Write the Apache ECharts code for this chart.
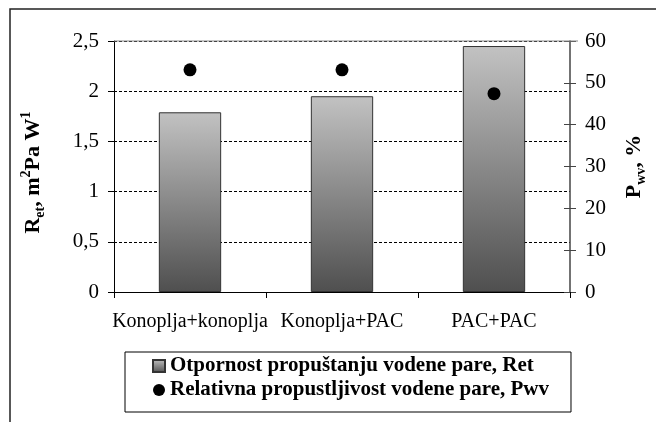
<!DOCTYPE html>
<html><head><meta charset="utf-8">
<script src="https://cdn.jsdelivr.net/npm/echarts@6/dist/echarts.min.js"></script>
<style>html,body{margin:0;padding:0;background:#fff}#c{width:656px;height:422px}</style>
</head><body><div id="c"></div>
<script>
var categories = ['Konoplja+konoplja', 'Konoplja+PAC', 'PAC+PAC'];
var retValues = [1.79, 1.95, 2.45];
var pwvValues = [53.1, 53.1, 47.4];
var retName = 'Otpornost propuštanju vodene pare, Ret';
var pwvName = 'Relativna propustljivost vodene pare, Pwv';

var FONT = '"Liberation Serif", "Times New Roman", serif';
var chart = echarts.init(document.getElementById('c'));
var grad = new echarts.graphic.LinearGradient(0, 0, 0, 1, [
  {offset: 0, color: '#c2c2c2'}, {offset: 1, color: '#4f4f4f'}]);
var titleRich = {
  b: {fontFamily: FONT, fontWeight: 'bold', fontSize: 22, color: '#000', lineHeight: 28, verticalAlign: 'middle'},
  sub: {fontFamily: FONT, fontWeight: 'bold', fontSize: 14, color: '#000', lineHeight: 28, verticalAlign: 'bottom'},
  sup: {fontFamily: FONT, fontWeight: 'bold', fontSize: 14, color: '#000', lineHeight: 28, verticalAlign: 'top'}
};
chart.setOption({
  animation: false,
  textStyle: {fontFamily: FONT},
  grid: {left: 114, right: 78, top: 41, bottom: 130},
  graphic: [{type: 'rect', shape: {x: 10, y: 9, width: 700, height: 500}, style: {fill: 'none', stroke: '#222', lineWidth: 1.5}, z: 0},
            {type: 'line', shape: {x1: 114, y1: 41, x2: 578, y2: 41}, style: {stroke: '#888', lineWidth: 1}, z: 1}],
  legend: {
    orient: 'vertical', left: 125, top: 352,
    borderColor: '#000', borderWidth: 1, padding: [3, 22, 11, 27],
    itemWidth: 12, itemHeight: 12, itemGap: 2,
    textStyle: {fontFamily: FONT, fontWeight: 'bold', fontSize: 21, color: '#000', lineHeight: 22},
    data: [{name: retName, icon: 'rect'}, {name: pwvName, icon: 'circle'}]
  },
  xAxis: {
    type: 'category', data: categories, boundaryGap: true,
    axisLine: {lineStyle: {color: '#000', width: 1}},
    axisTick: {show: true, alignWithLabel: false, length: 6, lineStyle: {color: '#000'}},
    axisLabel: {fontFamily: FONT, fontSize: 20, color: '#000', margin: 20, interval: 0, hideOverlap: false}
  },
  yAxis: [{
    type: 'value', min: 0, max: 2.5, interval: 0.5,
    name: '{b|R}{sub|et}{b|, m}{sup|2}{b|Pa W}{sup|1}',
    nameLocation: 'middle', nameRotate: 90, nameGap: 67,
    nameTextStyle: {rich: titleRich, padding: [0, 12, 0, 0]},
    axisLine: {show: true, lineStyle: {color: '#000', width: 1}},
    axisTick: {show: true, length: 6, lineStyle: {color: '#000'}},
    axisLabel: {fontFamily: FONT, fontSize: 21, color: '#000', margin: 15,
      formatter: function (v) { return String(v).replace('.', ','); }},
    splitLine: {show: true, lineStyle: {color: '#000', type: [3, 2], width: 1}}
  }, {
    type: 'value', min: 0, max: 60, interval: 10, position: 'right',
    name: '{b|P}{sub|wv}{b|, %}',
    nameLocation: 'middle', nameRotate: 90, nameGap: 50,
    nameTextStyle: {rich: titleRich},
    axisLine: {show: true, lineStyle: {color: '#444', width: 1.5}},
    axisTick: {show: true, length: 6, lineStyle: {color: '#444'}},
    axisLabel: {fontFamily: FONT, fontSize: 21, color: '#000', margin: 15},
    splitLine: {show: false}
  }, {
    type: 'value', min: 0, max: 60, interval: 10, position: 'right',
    axisLine: {show: false},
    axisTick: {show: true, inside: true, length: 6, lineStyle: {color: '#444'}},
    axisLabel: {show: false},
    splitLine: {show: false}
  }],
  series: [{
    name: retName, type: 'bar', data: retValues, barWidth: '41%',
    itemStyle: {color: grad, borderColor: '#333', borderWidth: 1}
  }, {
    name: pwvName, type: 'scatter', yAxisIndex: 1, data: pwvValues,
    symbol: 'circle', symbolSize: 13, itemStyle: {color: '#000', opacity: 1}
  }]
});
</script></body></html>
